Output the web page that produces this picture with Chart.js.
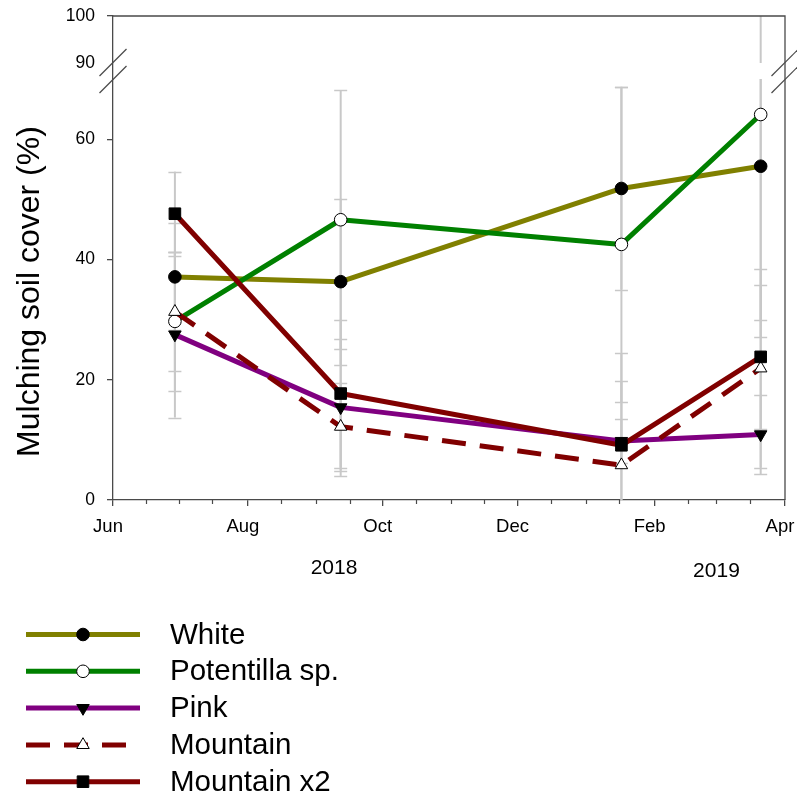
<!DOCTYPE html>
<html>
<head>
<meta charset="utf-8">
<script src="https://cdn.jsdelivr.net/npm/chart.js@4.4.1/dist/chart.umd.min.js"></script>
<style>
  html, body { margin: 0; padding: 0; background: #ffffff; }
  #wrap { width: 797px; height: 796px; }
</style>
</head>
<body>
<div id="wrap"><canvas id="chart" width="797" height="796"></canvas></div>
<script>
// ---- data ----
const sampleDates = ['2018-06-29', '2018-09-12', '2019-01-17', '2019-03-21'];
const seriesNames = ['White', 'Potentilla sp.', 'Pink', 'Mountain', 'Mountain x2'];

const whiteCover      = [37.1, 36.3, 51.8, 55.5];
const potentillaCover = [29.7, 46.6, 42.5, 64.1];
const pinkCover       = [27.5, 15.4,  9.8, 10.9];
const mountainCover   = [31.3, 12.2,  5.8, 21.9];
const mountain2Cover  = [47.6, 17.7,  9.1, 23.8];

const whiteErr      = [ 8.9, 13.8, 16.8, 25.5];
const potentillaErr = [11.5, 21.5, 26.2, 37.0];
const pinkErr       = [13.8, 11.4,  3.6,  6.6];
const mountainErr   = [ 9.9,  7.3, 14.0, 16.5];
const mountain2Err  = [ 7.0, 12.3, 15.3, 12.0];

const axisStartDate   = '2018-06-01';
const axisEndDate     = '2019-04-01';
const monthTickDates  = ['2018-06-01', '2018-08-01', '2018-10-01', '2018-12-01', '2019-02-01', '2019-04-01'];
const monthTickLabels = ['Jun', 'Aug', 'Oct', 'Dec', 'Feb', 'Apr'];
const yearLabels      = ['2018', '2019'];
const yearLabelDates  = ['2018-09-09', '2019-03-01'];

const yTickValues   = [0, 20, 40, 60, 90, 100];
const ySegments     = [[0, 70], [90, 100]];   // value ranges shown on the broken axis
const yTitle        = 'Mulching soil cover (%)';

// ---- helpers ----
const DAY = 86400000;
function dayOf(iso) {
  const [y, m, d] = iso.split('-').map(Number);
  const [y0, m0, d0] = axisStartDate.split('-').map(Number);
  return Math.round((Date.UTC(y, m - 1, d) - Date.UTC(y0, m0 - 1, d0)) / DAY);
}
const sampleDays = sampleDates.map(dayOf);
const majorTickDays = monthTickDates.map(dayOf);

// minor ticks on the 1st and 16th of every month
const minorTickDays = [];
(function () {
  let y = 2018, m = 5;
  while (true) {
    const d1 = dayOf(new Date(Date.UTC(y, m, 1)).toISOString().slice(0, 10));
    const d2 = dayOf(new Date(Date.UTC(y, m, 16)).toISOString().slice(0, 10));
    if (d1 > dayOf(axisEndDate)) break;
    if (!majorTickDays.includes(d1)) minorTickDays.push(d1);
    if (d2 <= dayOf(axisEndDate)) minorTickDays.push(d2);
    m++; if (m > 11) { m = 0; y++; }
  }
})();

// ---- broken linear scale: lower band 0-70, upper band 90-100 ----
const SEG_DEC = [[0, 0.8698], [0.9029, 1]];
function valueToDecimal(v) {
  const [lo, hi] = ySegments;
  if (v <= lo[1]) return SEG_DEC[0][0] + (v - lo[0]) / (lo[1] - lo[0]) * (SEG_DEC[0][1] - SEG_DEC[0][0]);
  if (v >= hi[0]) return SEG_DEC[1][0] + (v - hi[0]) / (hi[1] - hi[0]) * (SEG_DEC[1][1] - SEG_DEC[1][0]);
  return SEG_DEC[0][1] + (v - lo[1]) / (hi[0] - lo[1]) * (SEG_DEC[1][0] - SEG_DEC[0][1]);
}
function decimalToValue(d) {
  const [lo, hi] = ySegments;
  if (d <= SEG_DEC[0][1]) return lo[0] + (d - SEG_DEC[0][0]) / (SEG_DEC[0][1] - SEG_DEC[0][0]) * (lo[1] - lo[0]);
  if (d >= SEG_DEC[1][0]) return hi[0] + (d - SEG_DEC[1][0]) / (SEG_DEC[1][1] - SEG_DEC[1][0]) * (hi[1] - hi[0]);
  return lo[1] + (d - SEG_DEC[0][1]) / (SEG_DEC[1][0] - SEG_DEC[0][1]) * (hi[0] - lo[1]);
}
class BrokenLinearScale extends Chart.LinearScale {
  getPixelForValue(value) { return this.getPixelForDecimal(valueToDecimal(value)); }
  getValueForPixel(pixel) { return decimalToValue(this.getDecimalForPixel(pixel)); }
}
BrokenLinearScale.id = 'brokenLinear';
BrokenLinearScale.defaults = {};
Chart.register(BrokenLinearScale);

// ---- styling ----
const FONT = "'Liberation Sans', Arial, Helvetica, sans-serif";
const AXIS_COLOR = '#4a4a4a';
const ERR_COLOR = '#c8c8c8';
Chart.defaults.font.family = FONT;
Chart.defaults.color = '#000000';

function series(label, values, color, style) {
  return Object.assign({
    label: label,
    data: values.map((v, i) => ({ x: sampleDays[i], y: v })),
    borderColor: color,
    backgroundColor: color,
    borderWidth: 5,
    tension: 0,
    pointBorderColor: '#000000',
    pointBorderWidth: 1,
    pointHoverRadius: 6,
    borderCapStyle: 'butt',
    borderJoinStyle: 'round'
  }, style);
}

const datasets = [
  series(seriesNames[0], whiteCover, '#808000',
    { pointStyle: 'circle', pointRadius: 6.3, pointBackgroundColor: '#000000', order: 5 }),
  series(seriesNames[1], potentillaCover, '#008000',
    { pointStyle: 'circle', pointRadius: 6.3, pointBackgroundColor: '#ffffff', order: 4 }),
  series(seriesNames[2], pinkCover, '#800080',
    { pointStyle: 'triangle', pointRotation: 180, pointRadius: 7.2, pointBackgroundColor: '#000000', order: 3 }),
  series(seriesNames[3], mountainCover, '#800000',
    { pointStyle: 'triangle', pointRadius: 7.2, pointBackgroundColor: '#ffffff', borderDash: [24, 14], order: 2 }),
  series(seriesNames[4], mountain2Cover, '#800000',
    { pointStyle: 'rect', pointRadius: 8.2, pointBackgroundColor: '#000000', order: 1 })
];
const errorSets = [whiteErr, potentillaErr, pinkErr, mountainErr, mountain2Err];

// vertical error bars, split at the axis break
const errorBarPlugin = {
  id: 'errorBars',
  beforeDatasetsDraw(chart) {
    const { ctx, chartArea, scales: { x, y } } = chart;
    ctx.save();
    ctx.beginPath();
    ctx.rect(chartArea.left, chartArea.top, chartArea.right - chartArea.left, chartArea.bottom - chartArea.top);
    ctx.clip();
    ctx.strokeStyle = ERR_COLOR;
    chart.data.datasets.forEach((ds, di) => {
      const errs = errorSets[di];
      ds.data.forEach((pt, j) => {
        const px = x.getPixelForValue(pt.x);
        const lo = pt.y - errs[j], hi = pt.y + errs[j];
        ySegments.forEach(([a, b]) => {
          const s = Math.max(lo, a), e = Math.min(hi, b);
          if (s < e) {
            ctx.lineWidth = 2;
            ctx.beginPath();
            ctx.moveTo(px, y.getPixelForValue(s));
            ctx.lineTo(px, y.getPixelForValue(e));
            ctx.stroke();
          }
          [lo, hi].forEach(v => {
            if (v >= a && v <= b) {
              const py = Math.round(y.getPixelForValue(v)) + 0.5;
              ctx.lineWidth = 1.5;
              ctx.beginPath();
              ctx.moveTo(px - 6.5, py);
              ctx.lineTo(px + 6.5, py);
              ctx.stroke();
            }
          });
        });
      });
    });
    ctx.restore();
  }
};

// frame, axis break marks, minor ticks, y title, year labels and legend
const decorPlugin = {
  id: 'decor',
  afterDraw(chart) {
    const { ctx, chartArea, scales: { x, y } } = chart;
    const { left, right, top, bottom } = chartArea;
    ctx.save();
    ctx.strokeStyle = AXIS_COLOR;
    ctx.lineWidth = 1.3;
    // top and right frame
    ctx.beginPath();
    ctx.moveTo(left, top);
    ctx.lineTo(right, top);
    ctx.lineTo(right, bottom);
    ctx.stroke();
    // minor ticks on the time axis
    ctx.lineWidth = 1.2;
    minorTickDays.forEach(d => {
      const px = Math.round(x.getPixelForValue(d)) + 0.5;
      ctx.beginPath();
      ctx.moveTo(px, bottom);
      ctx.lineTo(px, bottom + 4);
      ctx.stroke();
    });
    // break marks on both vertical axes
    const yLoTop = y.getPixelForValue(ySegments[0][1]);
    const yHiBot = y.getPixelForValue(ySegments[1][0]);
    const mid = (yLoTop + yHiBot) / 2;
    ctx.lineWidth = 1.2;
    [left, right].forEach(ax => {
      [-8.5, 8.5].forEach(off => {
        ctx.beginPath();
        ctx.moveTo(ax - 13.5, mid + off + 13.5);
        ctx.lineTo(ax + 13.5, mid + off - 13.5);
        ctx.stroke();
      });
    });
    // y axis title, centred on the lower band
    ctx.fillStyle = '#000000';
    ctx.font = '32px ' + FONT;
    ctx.textAlign = 'center';
    ctx.textBaseline = 'middle';
    ctx.save();
    ctx.translate(30, (y.getPixelForValue(0) + yLoTop) / 2 + 2);
    ctx.rotate(-Math.PI / 2);
    ctx.fillText(yTitle, 0, 0);
    ctx.restore();
    // year labels under the month ticks
    ctx.font = '21px ' + FONT;
    yearLabels.forEach((t, i) => {
      ctx.fillText(t, x.getPixelForValue(dayOf(yearLabelDates[i])), i === 0 ? 568 : 571);
    });
    // legend
    const rowTop = 634.5, rowGap = 36.8;
    chart.data.datasets.forEach((ds, i) => {
      const ry = rowTop + i * rowGap;
      ctx.save();
      ctx.strokeStyle = ds.borderColor;
      ctx.lineWidth = ds.borderWidth;
      ctx.lineCap = 'butt';
      ctx.setLineDash(ds.borderDash || []);
      ctx.beginPath();
      ctx.moveTo(26, ry);
      ctx.lineTo(140, ry);
      ctx.stroke();
      ctx.restore();
      ctx.save();
      ctx.fillStyle = ds.pointBackgroundColor;
      ctx.strokeStyle = ds.pointBorderColor;
      ctx.lineWidth = ds.pointBorderWidth;
      Chart.helpers.drawPoint(ctx, {
        pointStyle: ds.pointStyle,
        rotation: ds.pointRotation || 0,
        radius: ds.pointRadius,
        borderWidth: ds.pointBorderWidth
      }, 83, ry);
      ctx.restore();
      ctx.fillStyle = '#000000';
      ctx.font = '29.5px ' + FONT;
      ctx.textAlign = 'left';
      ctx.textBaseline = 'middle';
      ctx.fillText(ds.label, 170, ry + 1);
    });
    ctx.restore();
  }
};

new Chart(document.getElementById('chart'), {
  type: 'line',
  data: { datasets: datasets },
  options: {
    responsive: false,
    animation: false,
    devicePixelRatio: 1,
    layout: { padding: { left: 0, right: 12, top: 16, bottom: 0 } },
    plugins: { legend: { display: false }, tooltip: { enabled: false }, title: { display: false } },
    scales: {
      x: {
        type: 'linear',
        min: 0,
        max: dayOf(axisEndDate),
        afterBuildTicks: axis => { axis.ticks = majorTickDays.map(v => ({ value: v })); },
        afterFit: s => { s.height = 296; s.paddingLeft = 0; s.paddingRight = 0; },
        ticks: {
          callback: (v, i) => monthTickLabels[i],
          font: { size: 18.5 },
          color: '#000000',
          padding: 10,
          labelOffset: -5,
          maxRotation: 0,
          autoSkip: false
        },
        grid: { display: true, drawOnChartArea: false, drawTicks: true, tickLength: 6, color: AXIS_COLOR, lineWidth: 1.3 },
        border: { display: true, color: AXIS_COLOR, width: 1.3 }
      },
      y: {
        type: 'brokenLinear',
        min: 0,
        max: 100,
        afterBuildTicks: axis => { axis.ticks = yTickValues.map(v => ({ value: v })); },
        afterFit: s => { s.width = 113; s.paddingTop = 0; s.paddingBottom = 0; },
        ticks: {
          callback: v => String(v),
          font: { size: 17.5 },
          color: '#000000',
          padding: 12,
          autoSkip: false
        },
        grid: {
          display: true, drawOnChartArea: false, drawTicks: true, tickLength: 6, lineWidth: 1.3,
          color: ctx => (ctx.tick && ctx.tick.value === ySegments[1][0]) ? 'rgba(0,0,0,0)' : AXIS_COLOR
        },
        border: { display: true, color: AXIS_COLOR, width: 1.3 }
      }
    }
  },
  plugins: [errorBarPlugin, decorPlugin]
});
</script>
</body>
</html>
